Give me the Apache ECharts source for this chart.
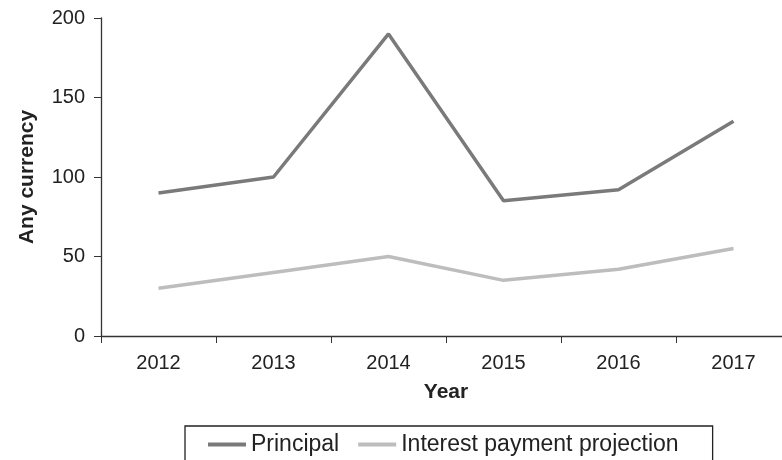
<!DOCTYPE html>
<html>
<head>
<meta charset="utf-8">
<script src="https://cdn.jsdelivr.net/npm/echarts@6/dist/echarts.min.js"></script>
<style>
  html, body { margin: 0; padding: 0; background: #fff; overflow: hidden; }
  /* the x axis runs past the right edge in the original, so the canvas is a bit wider than the window */
  #chart { width: 791px; height: 460px; }
</style>
</head>
<body>
<div id="chart"></div>
<script>
var years = ['2012', '2013', '2014', '2015', '2016', '2017']
var principal = [90, 100, 190, 85, 92, 135]
var interest = [30, 40, 50, 35, 42, 55]
var seriesNames = ['Principal', 'Interest payment projection']

var font = 'Liberation Sans, Arial, sans-serif'
var chart = echarts.init(document.getElementById('chart'))

chart.setOption({
  animation: false,
  textStyle: { fontFamily: font },
  grid: { left: 101, top: 18, right: 0, bottom: 124, containLabel: false },
  legend: {
    left: 185,
    top: 426,
    padding: [7, 34, 10, 23],
    borderColor: '#222',
    borderWidth: 1.3,
    itemGap: 19,
    itemWidth: 38,
    itemHeight: 4,
    icon: 'rect',
    textStyle: { fontSize: 23, color: '#222', fontFamily: font },
    data: seriesNames
  },
  xAxis: {
    type: 'category',
    data: years,
    boundaryGap: true,
    name: 'Year',
    nameLocation: 'middle',
    nameGap: 46,
    nameTextStyle: { fontSize: 21, fontWeight: 'bold', color: '#222' },
    axisLine: { lineStyle: { color: '#333', width: 1.3 } },
    axisTick: { show: true, length: 7, alignWithLabel: false, lineStyle: { color: '#333' } },
    axisLabel: { fontSize: 20, color: '#222', margin: 17 },
    splitLine: { show: false }
  },
  yAxis: {
    type: 'value',
    min: 0,
    max: 200,
    interval: 50,
    name: 'Any currency',
    nameLocation: 'middle',
    nameGap: 63,
    nameRotate: 90,
    nameTextStyle: { fontSize: 21, fontWeight: 'bold', color: '#222' },
    axisLine: { show: true, lineStyle: { color: '#333', width: 1.3 } },
    axisTick: { show: true, length: 7, lineStyle: { color: '#333' } },
    axisLabel: { fontSize: 20, color: '#222', margin: 16 },
    splitLine: { show: false }
  },
  series: [
    {
      name: seriesNames[0],
      type: 'line',
      data: principal,
      symbol: 'none',
      itemStyle: { color: '#7a7a7a' },
      lineStyle: { color: '#7a7a7a', width: 3.5 }
    },
    {
      name: seriesNames[1],
      type: 'line',
      data: interest,
      symbol: 'none',
      itemStyle: { color: '#bdbdbd' },
      lineStyle: { color: '#bdbdbd', width: 3.5 }
    }
  ]
})
</script>
</body>
</html>
